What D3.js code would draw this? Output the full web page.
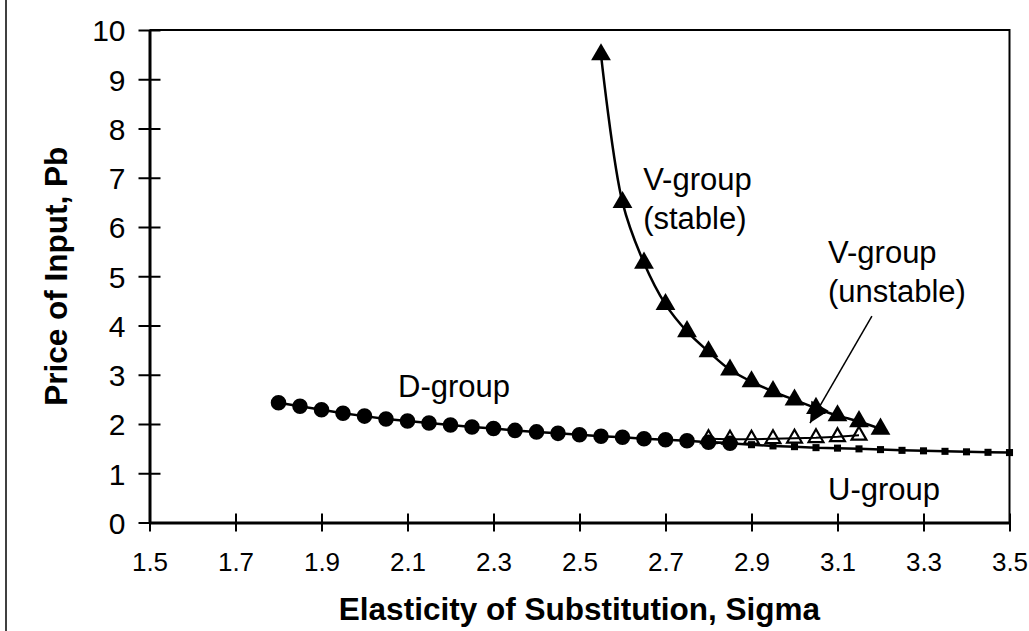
<!DOCTYPE html>
<html>
<head>
<meta charset="utf-8">
<script src="https://cdn.jsdelivr.net/npm/d3@7"></script>
<style>
  body { margin: 0; background: #fff; }
  text { font-family: "Liberation Sans", Arial, sans-serif; fill: #000; }
</style>
</head>
<body>
<div id="chart"></div>
<script>
// sigma values and prices
const dSigma = [1.8, 1.85, 1.9, 1.95, 2.0, 2.05, 2.1, 2.15, 2.2, 2.25, 2.3, 2.35,
                2.4, 2.45, 2.5, 2.55, 2.6, 2.65, 2.7, 2.75, 2.8, 2.85];
const dPrice = [2.43, 2.36, 2.29, 2.22, 2.16, 2.10, 2.06, 2.02, 1.98, 1.94, 1.91, 1.87,
                1.84, 1.81, 1.78, 1.75, 1.73, 1.70, 1.68, 1.66, 1.63, 1.61];

const uSigma = [2.8, 2.85, 2.9, 2.95, 3.0, 3.05, 3.1, 3.15, 3.2, 3.25, 3.3, 3.35, 3.4, 3.45, 3.5];
const uPrice = [1.63, 1.61, 1.58, 1.555, 1.54, 1.52, 1.51, 1.495, 1.48, 1.465, 1.455, 1.445, 1.435, 1.425, 1.42];

const vStableSigma = [2.55, 2.6, 2.65, 2.7, 2.75, 2.8, 2.85, 2.9, 2.95, 3.0, 3.05, 3.1, 3.15, 3.2];
const vStablePrice = [9.5, 6.5, 5.27, 4.43, 3.88, 3.47, 3.1, 2.86, 2.66, 2.49, 2.32, 2.17, 2.05, 1.9];

const vUnstableSigma = [2.8, 2.85, 2.9, 2.95, 3.0, 3.05, 3.1, 3.15];
const vUnstablePrice = [1.70, 1.69, 1.69, 1.70, 1.71, 1.72, 1.74, 1.77];

const xTicks = [1.5, 1.7, 1.9, 2.1, 2.3, 2.5, 2.7, 2.9, 3.1, 3.3, 3.5];
const yTicks = [0, 1, 2, 3, 4, 5, 6, 7, 8, 9, 10];

const svgWidth = 1029;
const svgHeight = 631;
const margin = { top: 30, right: 19.5, bottom: 108.5, left: 149.5 };

const svg = d3.select("#chart").append("svg")
    .attr("width", svgWidth)
    .attr("height", svgHeight);

const x = d3.scaleLinear().domain([1.5, 3.5]).range([margin.left, svgWidth - margin.right]);
const y = d3.scaleLinear().domain([0, 10]).range([svgHeight - margin.bottom, margin.top]);

const pts = (xs, ys) => xs.map((s, i) => [s, ys[i]]);

// outer chart frame edge on the left
svg.append("line")
    .attr("x1", 6).attr("x2", 6).attr("y1", 0).attr("y2", svgHeight)
    .attr("stroke", "#000").attr("stroke-width", 1.5);

// plot frame (top and right)
svg.append("path")
    .attr("d", `M${x(1.5)},${y(10)}H${x(3.5)}V${y(0)}`)
    .attr("fill", "none").attr("stroke", "#000").attr("stroke-width", 2);

// axes
const xAxis = svg.append("g")
    .attr("transform", `translate(0,${y(0)})`)
    .call(d3.axisBottom(x).tickValues(xTicks).tickFormat(d3.format(".1f")).tickSizeOuter(0));
xAxis.select(".domain").attr("stroke-width", 3);
xAxis.selectAll(".tick line").attr("y1", -9).attr("y2", 9).attr("stroke-width", 2);
xAxis.selectAll(".tick text")
    .attr("y", 48).attr("dy", null)
    .style("font-size", "26px").style("font-family", "Liberation Sans, Arial, sans-serif");

const yAxis = svg.append("g")
    .attr("transform", `translate(${x(1.5)},0)`)
    .call(d3.axisLeft(y).tickValues(yTicks).tickFormat(d3.format("d")).tickSizeOuter(0));
yAxis.select(".domain").attr("stroke-width", 3);
yAxis.selectAll(".tick line").attr("x1", -11).attr("x2", 11).attr("stroke-width", 2);
yAxis.selectAll(".tick text")
    .attr("x", -24).attr("dy", "0.36em")
    .style("font-size", "30px").style("font-family", "Liberation Sans, Arial, sans-serif");

// axis titles
svg.append("text")
    .attr("x", (x(1.5) + x(3.5)) / 2)
    .attr("y", 620)
    .attr("text-anchor", "middle")
    .style("font-size", "31.5px").style("font-weight", "bold")
    .text("Elasticity of Substitution, Sigma");

svg.append("text")
    .attr("transform", `translate(67,${(y(0) + y(10)) / 2}) rotate(-90)`)
    .attr("text-anchor", "middle")
    .style("font-size", "31.5px").style("font-weight", "bold")
    .text("Price of Input, Pb");

// lines
const straight = d3.line().x(d => x(d[0])).y(d => y(d[1]));
const smooth = d3.line().x(d => x(d[0])).y(d => y(d[1])).curve(d3.curveCatmullRom);

const plot = svg.append("g");

plot.append("path").datum(pts(uSigma, uPrice))
    .attr("d", straight).attr("fill", "none").attr("stroke", "#000").attr("stroke-width", 2.5);
plot.append("path").datum(pts(dSigma, dPrice))
    .attr("d", straight).attr("fill", "none").attr("stroke", "#000").attr("stroke-width", 2.5);
plot.append("path").datum(pts(vUnstableSigma, vUnstablePrice))
    .attr("d", straight).attr("fill", "none").attr("stroke", "#000").attr("stroke-width", 2);
plot.append("path").datum(pts(vStableSigma, vStablePrice))
    .attr("d", smooth).attr("fill", "none").attr("stroke", "#000").attr("stroke-width", 2.5);

// markers
const sym = (type, size) => d3.symbol().type(type).size(size);

plot.selectAll(".u").data(pts(uSigma, uPrice)).enter().append("path")
    .attr("transform", d => `translate(${x(d[0])},${y(d[1])})`)
    .attr("d", sym(d3.symbolSquare, 50)).attr("fill", "#000");

plot.selectAll(".d").data(pts(dSigma, dPrice)).enter().append("path")
    .attr("transform", d => `translate(${x(d[0])},${y(d[1])})`)
    .attr("d", sym(d3.symbolCircle, 190)).attr("fill", "#000");

plot.selectAll(".vu").data(pts(vUnstableSigma, vUnstablePrice)).enter().append("path")
    .attr("transform", d => `translate(${x(d[0])},${y(d[1])})`)
    .attr("d", sym(d3.symbolTriangle, 95)).attr("fill", "none")
    .attr("stroke", "#000").attr("stroke-width", 2.2);

plot.selectAll(".vs").data(pts(vStableSigma, vStablePrice)).enter().append("path")
    .attr("transform", d => `translate(${x(d[0])},${y(d[1])})`)
    .attr("d", sym(d3.symbolTriangle, 170)).attr("fill", "#000");

// annotations
const notes = [
    { sx: 2.648, py: 6.75, lines: ["V-group", "(stable)"] },
    { sx: 3.078, py: 5.26, lines: ["V-group", "(unstable)"] },
    { sx: 2.078, py: 2.55, lines: ["D-group"] },
    { sx: 3.078, py: 0.46, lines: ["U-group"] }
];
notes.forEach(n => {
    const t = svg.append("text")
        .attr("x", x(n.sx)).attr("y", y(n.py))
        .style("font-size", "31px");
    n.lines.forEach((l, i) => {
        t.append("tspan").attr("x", x(n.sx)).attr("dy", i === 0 ? 0 : 39).text(l);
    });
});

// arrow to the unstable branch
svg.append("defs").append("marker")
    .attr("id", "head")
    .attr("viewBox", "0 0 10 10")
    .attr("refX", 10).attr("refY", 5)
    .attr("markerWidth", 26).attr("markerHeight", 20)
    .attr("markerUnits", "userSpaceOnUse")
    .attr("orient", "auto")
    .append("path").attr("d", "M0,0L10,5L0,10Z").attr("fill", "#000");

svg.append("line")
    .attr("x1", x(3.18)).attr("y1", y(4.19))
    .attr("x2", x(3.036)).attr("y2", y(2.02))
    .attr("stroke", "#000").attr("stroke-width", 1.5)
    .attr("marker-end", "url(#head)");
</script>
</body>
</html>
